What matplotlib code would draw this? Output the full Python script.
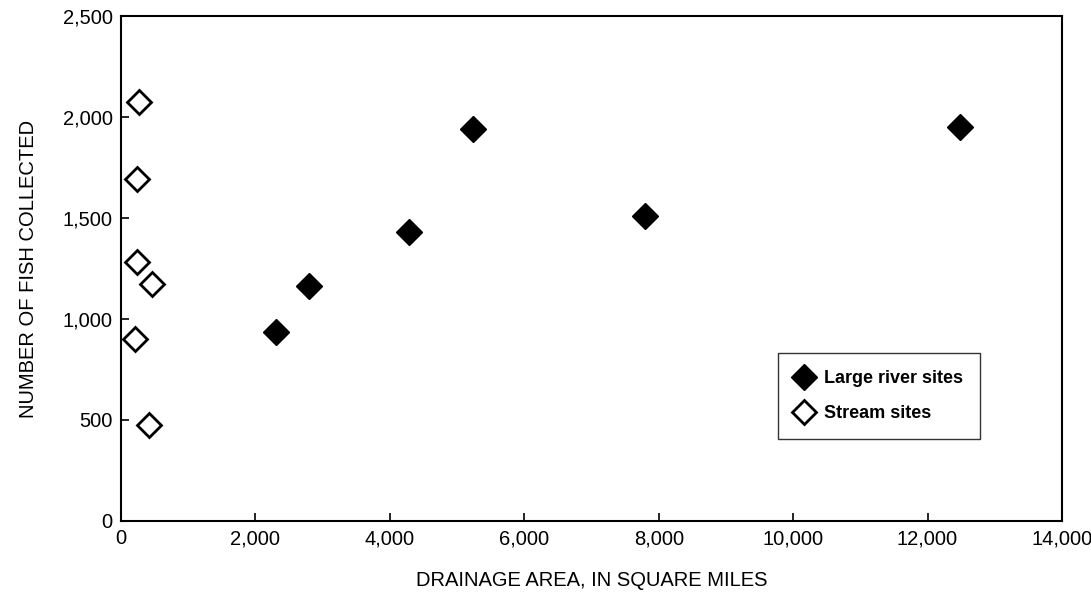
import matplotlib
matplotlib.use("Agg")
import matplotlib.pyplot as plt
from matplotlib.ticker import FuncFormatter

plt.rcParams['font.family'] = ['Liberation Sans Narrow', 'Liberation Sans', 'DejaVu Sans']

# large river sites (filled)
river_area = [2310, 2790, 4280, 5230, 7800, 12490]
river_fish = [936, 1163, 1432, 1939, 1508, 1952]

# stream sites (open)
stream_area = [268, 233, 233, 457, 213, 417]
stream_fish = [2074, 1693, 1284, 1172, 900, 475]

fig = plt.figure(figsize=(10.91, 6.0), dpi=100)
ax = fig.add_axes([0.1109, 0.1317, 0.8625, 0.8416])

ax.plot(river_area, river_fish, 'D', color='black', ms=13, linestyle='none',
        label='Large river sites')
ax.plot(stream_area, stream_fish, 'D', markerfacecolor='white', markeredgecolor='black',
        markeredgewidth=2, ms=12, linestyle='none', label='Stream sites')

ax.set_xlim(0, 14000)
ax.set_ylim(0, 2500)
ax.set_xticks(range(0, 14001, 2000))
ax.set_yticks(range(0, 2501, 500))
fmt = FuncFormatter(lambda v, p: f"{int(v):,}")
ax.xaxis.set_major_formatter(fmt)
ax.yaxis.set_major_formatter(fmt)
ax.tick_params(direction='in', length=6, width=1.2, labelsize=14.5, pad=6)
for s in ax.spines.values():
    s.set_linewidth(1.5)

ax.set_xlabel('DRAINAGE AREA, IN SQUARE MILES', fontsize=14.5, labelpad=16)
ax.set_ylabel('NUMBER OF FISH COLLECTED', fontsize=14.5, labelpad=18)

leg = ax.legend(loc='upper left', bbox_to_anchor=(0.698, 0.333), frameon=True,
                fancybox=False, edgecolor='black', prop={'weight': 'bold', 'size': 13},
                handletextpad=0.6, borderpad=0.95, labelspacing=1.0, handlelength=1.0,
                borderaxespad=0)
leg.get_frame().set_linewidth(1.0)

fig.savefig('out.png', dpi=100)
